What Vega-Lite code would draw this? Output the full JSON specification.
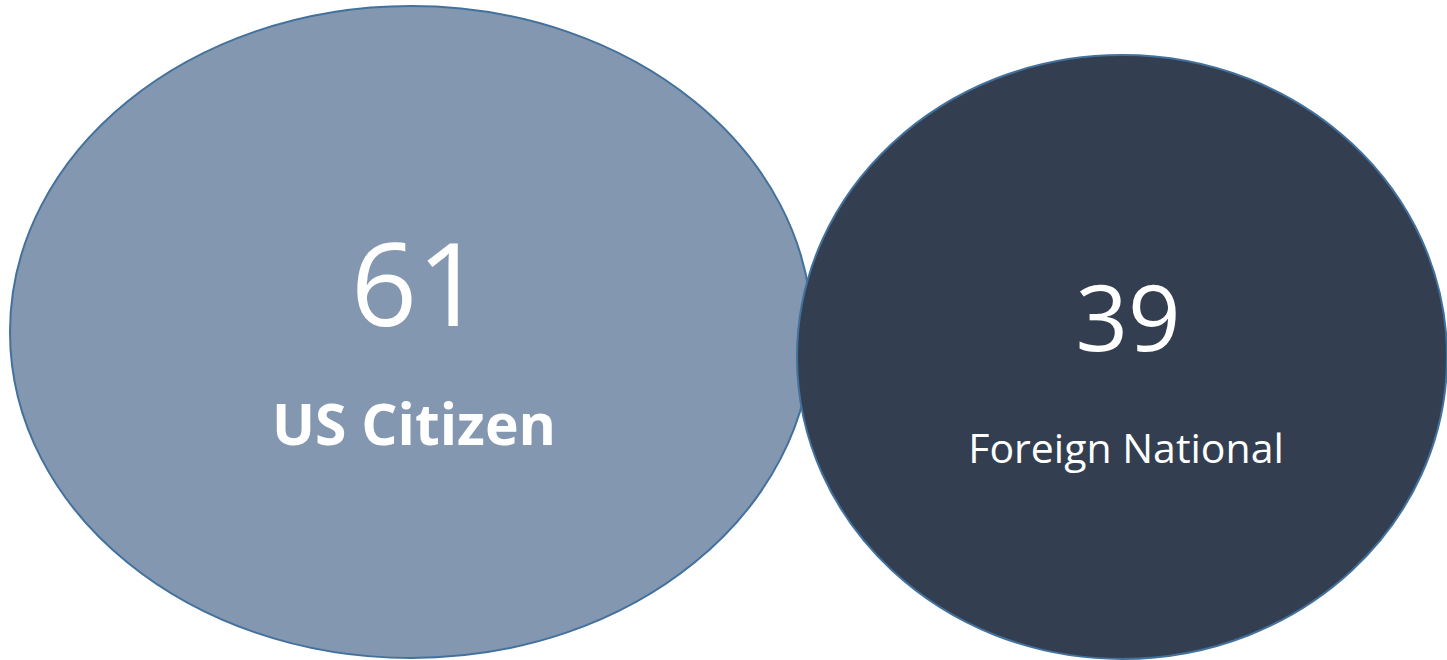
{
  "$schema": "https://vega.github.io/schema/vega-lite/v6.json",
  "width": 1447,
  "height": 660,
  "autosize": {"type": "none"},
  "padding": 0,
  "background": "white",
  "config": {"view": {"stroke": null}},
  "data": {"values": [
    {"group": "US Citizen", "value": 61},
    {"group": "Foreign National", "value": 39}
  ]},
  "encoding": {
    "x": {"field": "group", "type": "nominal", "axis": null,
          "scale": {"type": "point", "domain": ["US Citizen", "Foreign National"], "range": [411, 1122], "padding": 0}},
    "y": {"field": "group", "type": "nominal", "axis": null,
          "scale": {"type": "point", "domain": ["US Citizen", "Foreign National"], "range": [332, 357], "padding": 0}}
  },
  "resolve": {"scale": {"size": "independent"}},
  "layer": [
    {
      "mark": {"type": "point", "filled": true, "opacity": 1, "fillOpacity": 1, "stroke": "#41719C", "strokeWidth": 2, "strokeOpacity": 1},
      "encoding": {
        "color": {"field": "group", "type": "nominal", "legend": null,
                  "scale": {"domain": ["US Citizen", "Foreign National"], "range": ["#8497B0", "#333F50"]}},
        "shape": {"field": "group", "type": "nominal", "legend": null,
                  "scale": {"domain": ["US Citizen", "Foreign National"],
                            "range": ["M-1,0A1,0.813,0,1,0,1,0A1,0.813,0,1,0,-1,0Z", "M-1,0A1,0.929,0,1,0,1,0A1,0.929,0,1,0,-1,0Z"]}},
        "size": {"field": "value", "type": "quantitative", "legend": null,
                 "scale": {"type": "linear", "domain": [39, 61], "range": [422500, 643204], "zero": false}}
      }
    },
    {
      "mark": {"type": "text", "font": "Open Sans", "color": "white", "align": "center", "baseline": "alphabetic", "dy": -6, "dx": 6},
      "encoding": {
        "text": {"field": "value", "type": "quantitative"},
        "size": {"field": "value", "type": "quantitative", "legend": null,
                 "scale": {"type": "linear", "domain": [39, 61], "range": [92, 116], "zero": false}}
      }
    },
    {
      "transform": [{"filter": "datum.group === 'US Citizen'"}],
      "mark": {"type": "text", "font": "Open Sans", "fontWeight": "bold", "fontSize": 57, "color": "white", "align": "center", "baseline": "alphabetic", "dy": 113, "dx": 3},
      "encoding": {"text": {"field": "group", "type": "nominal"}}
    },
    {
      "transform": [{"filter": "datum.group === 'Foreign National'"}],
      "mark": {"type": "text", "font": "Open Sans", "fontSize": 41, "color": "white", "align": "center", "baseline": "alphabetic", "dy": 106, "dx": 4},
      "encoding": {"text": {"field": "group", "type": "nominal"}}
    }
  ]
}
